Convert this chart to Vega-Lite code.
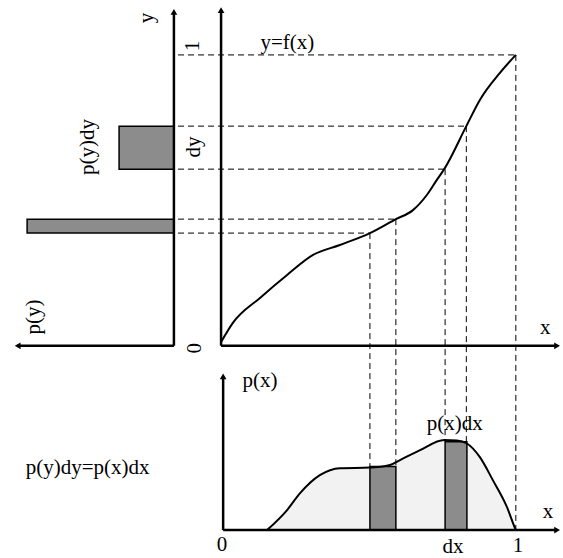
{
  "$schema": "https://vega.github.io/schema/vega-lite/v6.json",
  "width": 563,
  "height": 558,
  "padding": 0,
  "autosize": {"type": "none"},
  "background": "white",
  "config": {"view": {"stroke": null}},
  "datasets": {
    "density": [
      {"x": 0.156, "y": -0.634}, {"x": 0.224, "y": -0.565}, {"x": 0.268, "y": -0.507},
      {"x": 0.335, "y": -0.445}, {"x": 0.403, "y": -0.421}, {"x": 0.505, "y": -0.419},
      {"x": 0.573, "y": -0.410}, {"x": 0.607, "y": -0.393}, {"x": 0.675, "y": -0.359},
      {"x": 0.757, "y": -0.324}, {"x": 0.800, "y": -0.326}, {"x": 0.834, "y": -0.336},
      {"x": 0.878, "y": -0.383}, {"x": 0.922, "y": -0.462}, {"x": 0.970, "y": -0.555},
      {"x": 0.997, "y": -0.627}, {"x": 1.000, "y": -0.634}
    ],
    "fx": [
      {"x": 0.000, "y": 0.013}, {"x": 0.040, "y": 0.079}, {"x": 0.132, "y": 0.165},
      {"x": 0.224, "y": 0.244}, {"x": 0.312, "y": 0.313}, {"x": 0.403, "y": 0.347},
      {"x": 0.505, "y": 0.388}, {"x": 0.593, "y": 0.436}, {"x": 0.651, "y": 0.467},
      {"x": 0.698, "y": 0.519}, {"x": 0.732, "y": 0.571}, {"x": 0.757, "y": 0.608},
      {"x": 0.832, "y": 0.756}, {"x": 0.878, "y": 0.846}, {"x": 0.946, "y": 0.939},
      {"x": 1.000, "y": 1.001}
    ],
    "bars": [
      {"x": -0.346, "x2": -0.160, "y": 0.608, "y2": 0.756},
      {"x": -0.658, "x2": -0.160, "y": 0.388, "y2": 0.436},
      {"x": 0.505, "x2": 0.593, "y": -0.634, "y2": -0.415},
      {"x": 0.760, "x2": 0.834, "y": -0.634, "y2": -0.330}
    ],
    "dashes": [
      {"x": -0.146, "x2": 1.000, "y": 1.001, "y2": 1.001},
      {"x": -0.146, "x2": 0.832, "y": 0.756, "y2": 0.756},
      {"x": -0.146, "x2": 0.757, "y": 0.608, "y2": 0.608},
      {"x": -0.146, "x2": 0.593, "y": 0.436, "y2": 0.436},
      {"x": -0.146, "x2": 0.505, "y": 0.388, "y2": 0.388},
      {"x": 1.000, "x2": 1.000, "y": 1.001, "y2": -0.634},
      {"x": 0.832, "x2": 0.832, "y": 0.756, "y2": -0.336},
      {"x": 0.760, "x2": 0.760, "y": 0.608, "y2": -0.325},
      {"x": 0.593, "x2": 0.593, "y": 0.436, "y2": -0.410},
      {"x": 0.505, "x2": 0.505, "y": 0.388, "y2": -0.419}
    ],
    "axes": [
      {"x": -0.160, "x2": -0.160, "y": 0.0, "y2": 1.149},
      {"x": -0.160, "x2": -0.690, "y": 0.0, "y2": 0.0},
      {"x": 0.000, "x2": 0.000, "y": 0.0, "y2": 1.155},
      {"x": 0.000, "x2": 1.140, "y": 0.0, "y2": 0.0},
      {"x": 0.007, "x2": 0.007, "y": -0.634, "y2": -0.105},
      {"x": 0.007, "x2": 1.140, "y": -0.634, "y2": -0.634}
    ],
    "arrows": [
      {"x": -0.160, "y": 1.149, "dir": "up"},
      {"x": 0.000, "y": 1.155, "dir": "up"},
      {"x": -0.690, "y": 0.0, "dir": "left"},
      {"x": 1.140, "y": 0.0, "dir": "right"},
      {"x": 0.007, "y": -0.105, "dir": "up"},
      {"x": 1.140, "y": -0.634, "dir": "right"}
    ],
    "labels": [
      {"x": 0.225, "y": 1.042, "text": "y=f(x)"},
      {"x": 1.100, "y": 0.060, "text": "x"},
      {"x": 0.132, "y": -0.121, "text": "p(x)"},
      {"x": 0.793, "y": -0.269, "text": "p(x)dx"},
      {"x": 1.109, "y": -0.572, "text": "x"},
      {"x": 0.003, "y": -0.684, "text": "0"},
      {"x": 1.007, "y": -0.688, "text": "1"},
      {"x": 0.787, "y": -0.693, "text": "dx"},
      {"x": -0.453, "y": -0.420, "text": "p(y)dy=p(x)dx"}
    ],
    "vlabels": [
      {"x": -0.250, "y": 1.128, "text": "y"},
      {"x": -0.095, "y": 1.032, "text": "1"},
      {"x": -0.451, "y": 0.684, "text": "p(y)dy"},
      {"x": -0.092, "y": 0.684, "text": "dy"},
      {"x": -0.635, "y": 0.099, "text": "p(y)"},
      {"x": -0.090, "y": -0.008, "text": "0"}
    ]
  },
  "layer": [
    {
      "data": {"name": "density"},
      "mark": {"type": "area", "color": "#f2f2f2", "interpolate": "monotone"},
      "encoding": {
        "x": {"field": "x", "type": "quantitative", "axis": null, "scale": {"domain": [-0.75, 1.16], "nice": false, "zero": false}},
        "y": {"field": "y", "type": "quantitative", "axis": null, "scale": {"domain": [-0.73, 1.19], "nice": false, "zero": false}},
        "y2": {"datum": -0.634}
      }
    },
    {
      "data": {"name": "bars"},
      "mark": {"type": "rect", "fill": "#8c8c8c", "stroke": "black", "strokeWidth": 1.5},
      "encoding": {
        "x": {"field": "x", "type": "quantitative", "axis": null, "scale": {"domain": [-0.75, 1.16], "nice": false, "zero": false}},
        "x2": {"field": "x2"},
        "y": {"field": "y", "type": "quantitative", "axis": null, "scale": {"domain": [-0.73, 1.19], "nice": false, "zero": false}},
        "y2": {"field": "y2"}
      }
    },
    {
      "data": {"name": "dashes"},
      "mark": {"type": "rule", "color": "black", "strokeWidth": 1, "strokeDash": [6, 4]},
      "encoding": {
        "x": {"field": "x", "type": "quantitative", "axis": null, "scale": {"domain": [-0.75, 1.16], "nice": false, "zero": false}},
        "x2": {"field": "x2"},
        "y": {"field": "y", "type": "quantitative", "axis": null, "scale": {"domain": [-0.73, 1.19], "nice": false, "zero": false}},
        "y2": {"field": "y2"}
      }
    },
    {
      "data": {"name": "axes"},
      "mark": {"type": "rule", "color": "black", "strokeWidth": 2.5},
      "encoding": {
        "x": {"field": "x", "type": "quantitative", "axis": null, "scale": {"domain": [-0.75, 1.16], "nice": false, "zero": false}},
        "x2": {"field": "x2"},
        "y": {"field": "y", "type": "quantitative", "axis": null, "scale": {"domain": [-0.73, 1.19], "nice": false, "zero": false}},
        "y2": {"field": "y2"}
      }
    },
    {
      "data": {"name": "fx"},
      "mark": {"type": "line", "color": "black", "strokeWidth": 2, "interpolate": "monotone"},
      "encoding": {
        "x": {"field": "x", "type": "quantitative", "axis": null, "scale": {"domain": [-0.75, 1.16], "nice": false, "zero": false}},
        "y": {"field": "y", "type": "quantitative", "axis": null, "scale": {"domain": [-0.73, 1.19], "nice": false, "zero": false}}
      }
    },
    {
      "data": {"name": "density"},
      "mark": {"type": "line", "color": "black", "strokeWidth": 2, "interpolate": "monotone"},
      "encoding": {
        "x": {"field": "x", "type": "quantitative", "axis": null, "scale": {"domain": [-0.75, 1.16], "nice": false, "zero": false}},
        "y": {"field": "y", "type": "quantitative", "axis": null, "scale": {"domain": [-0.73, 1.19], "nice": false, "zero": false}}
      }
    },
    {
      "data": {"name": "arrows"},
      "mark": {"type": "point", "filled": true, "color": "black", "size": 45, "opacity": 1},
      "encoding": {
        "x": {"field": "x", "type": "quantitative", "axis": null, "scale": {"domain": [-0.75, 1.16], "nice": false, "zero": false}},
        "y": {"field": "y", "type": "quantitative", "axis": null, "scale": {"domain": [-0.73, 1.19], "nice": false, "zero": false}},
        "shape": {"field": "dir", "type": "nominal", "legend": null, "scale": {"domain": ["up", "left", "right"], "range": ["triangle-up", "triangle-left", "triangle-right"]}}
      }
    },
    {
      "data": {"name": "labels"},
      "mark": {"type": "text", "font": "Liberation Serif", "fontSize": 21, "color": "black", "align": "center", "baseline": "middle"},
      "encoding": {
        "x": {"field": "x", "type": "quantitative", "axis": null, "scale": {"domain": [-0.75, 1.16], "nice": false, "zero": false}},
        "y": {"field": "y", "type": "quantitative", "axis": null, "scale": {"domain": [-0.73, 1.19], "nice": false, "zero": false}},
        "text": {"field": "text"}
      }
    },
    {
      "data": {"name": "vlabels"},
      "mark": {"type": "text", "font": "Liberation Serif", "fontSize": 21, "color": "black", "align": "center", "baseline": "middle", "angle": 270},
      "encoding": {
        "x": {"field": "x", "type": "quantitative", "axis": null, "scale": {"domain": [-0.75, 1.16], "nice": false, "zero": false}},
        "y": {"field": "y", "type": "quantitative", "axis": null, "scale": {"domain": [-0.73, 1.19], "nice": false, "zero": false}},
        "text": {"field": "text"}
      }
    }
  ]
}
